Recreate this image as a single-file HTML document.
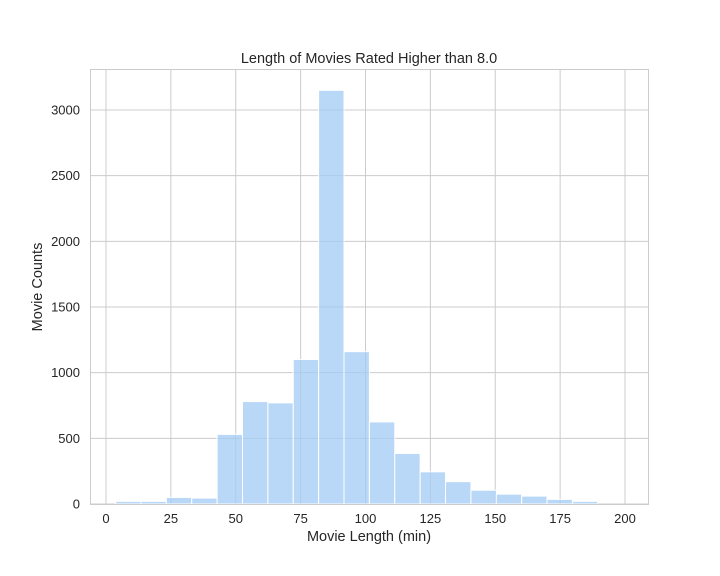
<!DOCTYPE html>
<html><head><meta charset="utf-8"><style>
body{margin:0;background:#fff;}
svg{display:block;font-family:"Liberation Sans",sans-serif;}
</style></head><body>
<svg id="chart" width="720" height="576">
</svg>
<script>
const binStart = 3.7;
const binWidth = 9.78;
const counts = [20, 20, 50, 45, 530, 780, 770, 1100, 3150, 1160, 625, 385, 245, 170, 105, 75, 60, 35, 20];
const xTicks = [0, 25, 50, 75, 100, 125, 150, 175, 200];
const yTicks = [0, 500, 1000, 1500, 2000, 2500, 3000];

const L = 90.5, R = 648.5, T = 69.5, B = 504;
const xS = v => 106 + v * 2.595;
const yS = v => 504 - v * 0.13133;
const svg = document.getElementById('chart');
const NS = 'http://www.w3.org/2000/svg';
function mk(tag, attrs, parent) {
  const e = document.createElementNS(NS, tag);
  for (const k in attrs) e.setAttribute(k, attrs[k]);
  (parent || svg).appendChild(e);
  return e;
}
const grid = mk('g', {});


xTicks.forEach(t => {
  mk('line', {x1: xS(t), x2: xS(t), y1: T, y2: B, stroke: '#cccccc', 'stroke-width': 1}, grid);
  const lab = mk('text', {x: xS(t), y: 523, 'text-anchor': 'middle', 'font-size': 13, fill: '#262626'});
  lab.textContent = t;
  
  
});
yTicks.forEach(t => {
  mk('line', {x1: L, x2: R, y1: yS(t), y2: yS(t), stroke: '#cccccc', 'stroke-width': 1}, grid);
  const lab = mk('text', {x: 80, y: yS(t) + 4.5, 'text-anchor': 'end', 'font-size': 13, fill: '#262626'});
  lab.textContent = t;
  
  
});
counts.forEach((c, i) => {
  const x0 = xS(binStart + i * binWidth), x1 = xS(binStart + (i + 1) * binWidth);
  const r = mk('rect', {x: x0, y: yS(c), width: x1 - x0, height: B - yS(c), fill: 'rgba(161,201,244,0.75)', stroke: '#ffffff', 'stroke-width': 1});
  
  
});
const frame = mk('rect', {x: L, y: T, width: R - L, height: B - T + 0.5, fill: 'none', stroke: '#cccccc', 'stroke-width': 1});


const title = mk('text', {x: 369, y: 63, 'text-anchor': 'middle', 'font-size': 14.5, fill: '#262626'});
title.textContent = 'Length of Movies Rated Higher than 8.0';


const xt = mk('text', {x: 369, y: 541, 'text-anchor': 'middle', 'font-size': 14.5, fill: '#262626'});
xt.textContent = 'Movie Length (min)';


const yt = mk('text', {x: 0, y: 0, 'text-anchor': 'middle', 'font-size': 14.5, fill: '#262626', transform: 'translate(42,287) rotate(-90)'});
yt.textContent = 'Movie Counts';


</script>
</body></html>
